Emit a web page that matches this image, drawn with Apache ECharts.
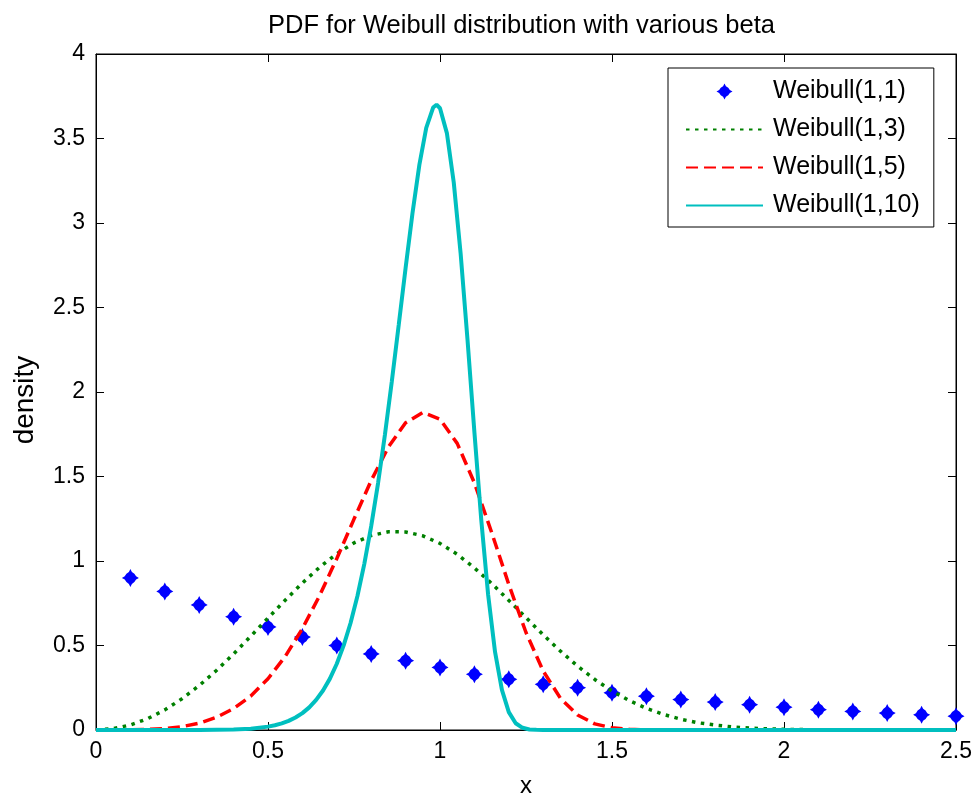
<!DOCTYPE html>
<html>
<head>
<meta charset="utf-8">
<script src="https://cdn.jsdelivr.net/npm/echarts@6/dist/echarts.min.js"></script>
<style>html,body{margin:0;padding:0;background:#fff}#c{width:974px;height:794px}</style>
</head>
<body>
<div id="c"></div>
<script>
// Weibull(1,1) sample points
var x1 = [0.1,0.2,0.3,0.4,0.5,0.6,0.7,0.8,0.9,1.0,1.1,1.2,1.3,1.4,1.5,1.6,1.7,1.8,1.9,2.0,2.1,2.2,2.3,2.4,2.5];
var y1 = [0.90,0.82,0.74,0.67,0.61,0.55,0.50,0.45,0.41,0.37,0.33,0.30,0.27,0.25,0.22,0.20,0.18,0.165,0.15,0.135,0.12,0.11,0.10,0.09,0.082];

// Weibull(1,3)
var x3 = [0,0.05,0.1,0.15,0.2,0.25,0.3,0.35,0.4,0.45,0.5,0.55,0.6,0.65,0.7,0.75,0.8,0.85,0.9,0.95,1.0,1.05,1.1,1.15,1.2,1.25,1.3,1.35,1.4,1.45,1.5,1.55,1.6,1.65,1.7,1.75,1.8,1.85,1.9,1.95,2.0,2.1,2.2,2.5];
var y3 = [0,0.0075,0.030,0.067,0.119,0.185,0.263,0.352,0.450,0.555,0.662,0.768,0.870,0.963,1.043,1.107,1.151,1.173,1.172,1.149,1.104,1.040,0.959,0.867,0.767,0.665,0.563,0.467,0.378,0.299,0.231,0.174,0.128,0.092,0.064,0.043,0.029,0.018,0.011,0.007,0.004,0.001,0,0];

// Weibull(1,5)
var x5 = [0,0.1,0.2,0.25,0.3,0.35,0.4,0.45,0.5,0.55,0.6,0.65,0.7,0.75,0.8,0.85,0.9,0.95,1.0,1.05,1.1,1.15,1.2,1.25,1.3,1.35,1.4,1.45,1.5,1.55,1.6,1.7,2.0,2.5];
var y5 = [0,0.0005,0.008,0.020,0.040,0.075,0.127,0.201,0.303,0.435,0.600,0.795,1.015,1.248,1.476,1.675,1.818,1.879,1.839,1.696,1.462,1.170,0.861,0.577,0.349,0.188,0.089,0.036,0.013,0.004,0.001,0,0,0];

// Weibull(1,10)
var x10 = [0,0.1,0.2,0.3,0.4,0.45,0.5,0.52,0.54,0.56,0.58,0.6,0.62,0.64,0.66,0.68,0.7,0.72,0.74,0.76,0.78,0.8,0.82,0.84,0.86,0.88,0.9,0.92,0.94,0.96,0.98,0.99,1.0,1.02,1.04,1.06,1.08,1.1,1.12,1.14,1.16,1.18,1.2,1.22,1.24,1.26,1.28,1.3,1.5,2.0,2.5];
var y10 = [0,0,0,0,0.003,0.008,0.020,0.028,0.039,0.054,0.074,0.100,0.134,0.178,0.234,0.304,0.392,0.501,0.633,0.793,0.983,1.206,1.461,1.748,2.063,2.396,2.734,3.058,3.344,3.563,3.683,3.700,3.679,3.532,3.240,2.819,2.308,1.763,1.242,0.799,0.462,0.237,0.106,0.040,0.013,0.003,0.001,0,0,0,0];

var xTicks = ['0','0.5','1','1.5','2','2.5'];
var yTicks = ['0','0.5','1','1.5','2','2.5','3','3.5','4'];
var seriesNames = ['Weibull(1,1)', 'Weibull(1,3)', 'Weibull(1,5)', 'Weibull(1,10)'];

function zip(a, b) { return a.map(function (v, i) { return [v, b[i]]; }); }

var FONT = 'Liberation Sans';
var chart = echarts.init(document.getElementById('c'), null, {renderer: 'canvas'});

var hidden = {show: false};
var noSym = {color: 'rgba(0,0,0,0)', borderWidth: 0, opacity: 0};
var MARKER = 'path://M0,-9 L1.6,-6 L4.2,-4.2 L6,-1.6 L9,0 L6,1.6 L4.2,4.2 L1.6,6 L0,9 L-1.6,6 L-4.2,4.2 L-6,1.6 L-9,0 L-6,-1.6 L-4.2,-4.2 L-1.6,-6 Z';

chart.setOption({
  animation: false,
  backgroundColor: '#fff',
  title: {
    text: 'PDF for Weibull distribution with various beta',
    left: 263, top: 8,
    textStyle: {fontFamily: FONT, fontSize: 25.5, fontWeight: 'normal', color: '#000'}
  },
  grid: {left: 96, right: 18, top: 54, bottom: 64, show: true, borderColor: '#000', borderWidth: 1,
    backgroundColor: '#fff', containLabel: false, outerBoundsMode: 'none'},
  legend: {
    orient: 'vertical', left: 668, top: 68,
    padding: [11, 14, 9, 17],
    itemWidth: 77, itemHeight: 16, itemGap: 13,
    backgroundColor: '#fff', borderColor: '#000', borderWidth: 1, borderRadius: 0,
    textStyle: {fontFamily: FONT, fontSize: 25, lineHeight: 25, color: '#000', padding: [0, 0, 0, 5]},
    data: [
      {name: seriesNames[0]},
      {name: seriesNames[1], itemStyle: noSym},
      {name: seriesNames[2], itemStyle: noSym},
      {name: seriesNames[3], itemStyle: noSym}
    ]
  },
  xAxis: [{
    type: 'value', min: 0, max: 2.5, interval: 0.5,
    name: 'x', nameLocation: 'middle', nameGap: 44,
    nameTextStyle: {fontFamily: FONT, fontSize: 24, color: '#000'},
    axisLine: {show: true, onZero: false, lineStyle: {color: '#000', width: 1}},
    axisTick: {show: true, inside: true, length: 8, lineStyle: {color: '#000'}},
    axisLabel: {fontFamily: FONT, fontSize: 23, color: '#000', margin: 10,
      formatter: function (v) { return xTicks[Math.round(v / 0.5)]; }},
    splitLine: hidden
  }, {
    type: 'value', min: 0, max: 2.5, interval: 0.5, position: 'top',
    axisLine: {show: true, onZero: false, lineStyle: {color: '#000'}},
    axisTick: {show: true, inside: true, length: 8, lineStyle: {color: '#000'}},
    axisLabel: hidden, splitLine: hidden
  }],
  yAxis: [{
    type: 'value', min: 0, max: 4, interval: 0.5,
    name: 'density', nameLocation: 'middle', nameGap: 57, nameRotate: 90,
    nameTextStyle: {fontFamily: FONT, fontSize: 28, color: '#000', padding: [0, 16, 0, 0]},
    axisLine: {show: true, onZero: false, lineStyle: {color: '#000', width: 1}},
    axisTick: {show: true, inside: true, length: 8, lineStyle: {color: '#000'}},
    axisLabel: {fontFamily: FONT, fontSize: 23, color: '#000', margin: 11,
      formatter: function (v) { return yTicks[Math.round(v / 0.5)]; }},
    splitLine: hidden
  }, {
    type: 'value', min: 0, max: 4, interval: 0.5, position: 'right',
    axisLine: {show: true, onZero: false, lineStyle: {color: '#000'}},
    axisTick: {show: true, inside: true, length: 8, lineStyle: {color: '#000'}},
    axisLabel: hidden, splitLine: hidden
  }],
  series: [{
    name: seriesNames[0], type: 'scatter',
    symbol: MARKER,
    symbolSize: [17, 18],
    itemStyle: {color: '#0000FF', opacity: 1},
    data: zip(x1, y1), z: 2
  }, {
    name: seriesNames[1], type: 'line', symbol: 'none', showSymbol: false,
    lineStyle: {color: '#008000', width: 3.5, type: [3.5, 5.5]},
    itemStyle: {color: '#008000'},
    data: zip(x3, y3), z: 3
  }, {
    name: seriesNames[2], type: 'line', symbol: 'none', showSymbol: false,
    lineStyle: {color: '#FF0000', width: 3.5, type: [12, 6]},
    itemStyle: {color: '#FF0000'},
    data: zip(x5, y5), z: 4
  }, {
    name: seriesNames[3], type: 'line', symbol: 'none', showSymbol: false,
    lineStyle: {color: '#00BFBF', width: 4, type: 'solid'},
    itemStyle: {color: '#00BFBF'},
    data: zip(x10, y10), z: 5
  }]
});
</script>
</body>
</html>
